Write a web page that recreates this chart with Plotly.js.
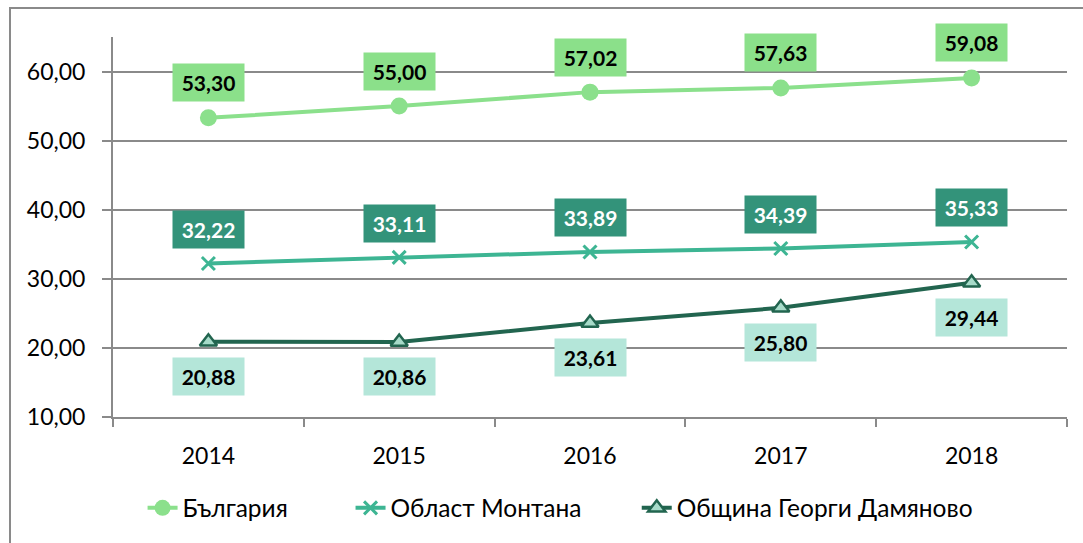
<!DOCTYPE html>
<html>
<head>
<meta charset="utf-8">
<script src="https://cdn.plot.ly/plotly-3.0.1.min.js"></script>
<style>
  html, body { margin: 0; padding: 0; background: #ffffff; }
  #wrap { position: relative; width: 1083px; height: 543px; overflow: hidden; }
  #frame { position: absolute; left: 9px; top: 7px; width: 1200px; height: 700px;
           border-left: 2px solid #8a8a8a; border-top: 2px solid #8a8a8a; }
  #chart { position: absolute; left: 0; top: 0; width: 1083px; height: 543px; }
</style>
</head>
<body>
<div id="wrap">
  <div id="frame"></div>
  <div id="chart"></div>
</div>
<script>
const years = [2014, 2015, 2016, 2017, 2018];
const seriesNames = ["България", "Област Монтана", "Община Георги Дамяново"];
const bulgaria = [53.30, 55.00, 57.02, 57.63, 59.08];
const montana = [32.22, 33.11, 33.89, 34.39, 35.33];
const damyanovo = [20.88, 20.86, 23.61, 25.80, 29.44];

const FONT = "Lato, 'Open Sans', sans-serif";
const fmt = v => v.toFixed(2).replace('.', ',');

const traces = [
  {
    x: years, y: bulgaria, name: seriesNames[0], type: 'scatter', mode: 'lines+markers',
    legend: 'legend',
    line: {color: '#8be08c', width: 4},
    marker: {symbol: 'circle', size: 17, color: '#8be08c'}
  },
  {
    x: years, y: montana, name: seriesNames[1], type: 'scatter', mode: 'lines+markers',
    legend: 'legend2',
    line: {color: '#3db593', width: 4},
    marker: {symbol: 'x-thin', size: 13, color: '#3db593', line: {color: '#3db593', width: 3}}
  },
  {
    x: years, y: damyanovo, name: seriesNames[2], type: 'scatter', mode: 'lines+markers',
    legend: 'legend3',
    line: {color: '#22654f', width: 4},
    marker: {symbol: 'triangle-up', size: 15, color: '#a7dbc9', line: {color: '#22654f', width: 2.5}}
  }
];

function labels(vals, bg, fc, shift) {
  return vals.map((v, i) => ({
    x: years[i], y: v, xref: 'x', yref: 'y', text: '<b>' + fmt(v) + '</b>',
    showarrow: false, yshift: shift, bgcolor: bg, borderpad: 6,
    width: 59, height: 25,
    font: {family: FONT, size: 21, color: fc}
  }));
}

const annotations = [].concat(
  labels(bulgaria, '#8be08a', '#000000', 35),
  labels(montana, '#33937a', '#ffffff', 34),
  labels(damyanovo, '#b4e6d9', '#000000', -35)
);

function legendAt(x) {
  return {
    orientation: 'h', x: x, xanchor: 'left', y: -0.18, yanchor: 'top',
    font: {family: FONT, size: 24.5, color: '#000000'},
    bgcolor: 'rgba(0,0,0,0)'
  };
}

const layout = {
  width: 1083, height: 543,
  margin: {l: 113, r: 16, t: 37, b: 126},
  paper_bgcolor: 'rgba(0,0,0,0)', plot_bgcolor: 'rgba(0,0,0,0)',
  font: {family: FONT, size: 23, color: '#000000'},
  separators: ',.',
  showlegend: true,
  legend: legendAt(0.031),
  legend2: legendAt(0.249),
  legend3: legendAt(0.549),
  xaxis: {
    type: 'linear', range: [2013.5, 2018.5],
    tickvals: years, ticktext: years.map(String),
    ticks: '', showgrid: false, zeroline: false,
    showline: true, linecolor: '#8a8a8a', linewidth: 2,
    tickfont: {family: FONT, size: 23, color: '#000000'},
    ticklabelstandoff: 17,
    minor: {ticks: 'outside', tick0: 2013.5, dtick: 1, ticklen: 8, tickwidth: 2, tickcolor: '#8a8a8a', showgrid: false},
    fixedrange: true
  },
  yaxis: {
    range: [10, 65], tickvals: [10, 20, 30, 40, 50, 60], tickformat: '.2f',
    ticks: 'outside', ticklen: 9, tickwidth: 2, tickcolor: '#8a8a8a',
    showgrid: true, gridcolor: '#8a8a8a', gridwidth: 2,
    zeroline: false, showline: true, linecolor: '#8a8a8a', linewidth: 2,
    tickfont: {family: FONT, size: 23, color: '#000000'},
    ticklabelstandoff: 12,
    fixedrange: true
  },
  annotations: annotations
};

Plotly.newPlot('chart', traces, layout, {displayModeBar: false, staticPlot: true});
</script>
</body>
</html>
